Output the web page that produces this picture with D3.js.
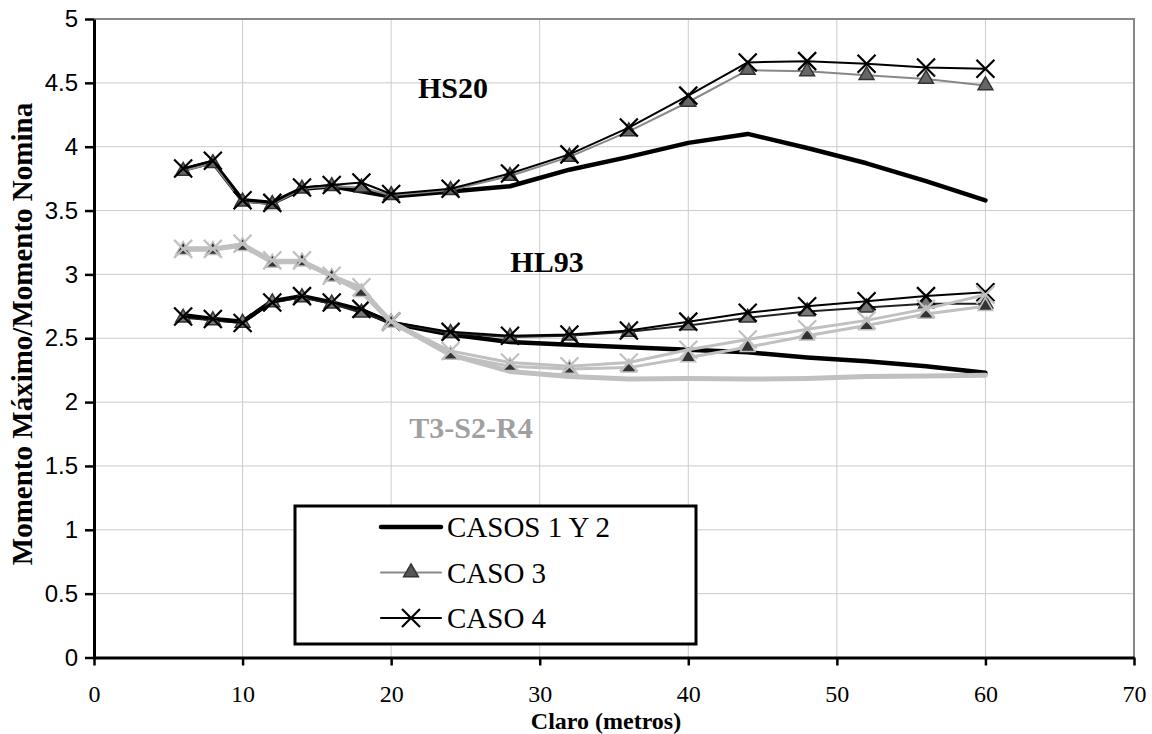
<!DOCTYPE html>
<html>
<head>
<meta charset="utf-8">
<script src="https://cdn.jsdelivr.net/npm/d3@7"></script>
<style>
  body { margin: 0; background: #fff; }
  svg { display: block; }
</style>
</head>
<body>
<div id="chart"></div>
<script>
// Span values (metros)
const claro = [6, 8, 10, 12, 14, 16, 18, 20, 24, 28, 32, 36, 40, 44, 48, 52, 56, 60];

// HS20
const hs20Casos12 = [3.82, 3.88, 3.58, 3.56, 3.67, 3.69, 3.65, 3.61, 3.65, 3.69, 3.82, 3.92, 4.03, 4.10, 3.99, 3.87, 3.73, 3.58];
const hs20Caso3 = [3.81, 3.87, 3.57, 3.55, 3.67, 3.69, 3.68, 3.62, 3.66, 3.77, 3.92, 4.12, 4.35, 4.60, 4.59, 4.56, 4.53, 4.48];
const hs20Caso4 = [3.83, 3.89, 3.58, 3.56, 3.68, 3.70, 3.72, 3.63, 3.67, 3.79, 3.94, 4.15, 4.40, 4.66, 4.67, 4.65, 4.62, 4.61];

// HL93
const hl93Casos12 = [2.68, 2.65, 2.63, 2.79, 2.83, 2.78, 2.72, 2.62, 2.53, 2.47, 2.45, 2.43, 2.41, 2.39, 2.35, 2.32, 2.28, 2.23];
const hl93Caso3 = [2.66, 2.64, 2.62, 2.78, 2.82, 2.77, 2.70, 2.62, 2.54, 2.51, 2.52, 2.55, 2.60, 2.66, 2.71, 2.74, 2.77, 2.77];
const hl93Caso4 = [2.67, 2.65, 2.62, 2.78, 2.83, 2.78, 2.73, 2.63, 2.55, 2.52, 2.53, 2.56, 2.63, 2.70, 2.75, 2.79, 2.83, 2.86];

// T3-S2-R4
const t3Casos12 = [3.20, 3.20, 3.23, 3.10, 3.10, 2.99, 2.87, 2.63, 2.37, 2.24, 2.20, 2.18, 2.185, 2.18, 2.185, 2.20, 2.205, 2.21];
const t3Caso3 = [3.19, 3.19, 3.22, 3.09, 3.10, 2.98, 2.86, 2.62, 2.37, 2.28, 2.26, 2.27, 2.35, 2.43, 2.52, 2.60, 2.69, 2.75];
const t3Caso4 = [3.20, 3.20, 3.24, 3.11, 3.11, 2.99, 2.90, 2.63, 2.40, 2.31, 2.28, 2.31, 2.41, 2.49, 2.57, 2.64, 2.73, 2.84];

const xTicks = [0, 10, 20, 30, 40, 50, 60, 70];
const yTicks = [0, 0.5, 1, 1.5, 2, 2.5, 3, 3.5, 4, 4.5, 5];
const yTickLabels = ['0', '0.5', '1', '1.5', '2', '2.5', '3', '3.5', '4', '4.5', '5'];
const legendLabels = ['CASOS 1 Y 2', 'CASO 3', 'CASO 4'];

const serif = '"Liberation Serif", "Times New Roman", Times, serif';
const sans = '"Liberation Sans", Arial, sans-serif';

const width = 1152, height = 734;

const svg = d3.select('#chart')
  .append('svg')
  .attr('width', width)
  .attr('height', height);

svg.append('rect').attr('width', width).attr('height', height).attr('fill', '#fff');

// Scales
const x = d3.scaleLinear().domain([0, 70]).range([94, 1134]);
const y = d3.scaleLinear().domain([0, 5]).range([657.5, 19]);

// Gridlines
svg.append('g')
  .selectAll('line')
  .data(xTicks.slice(1, -1))
  .enter().append('line')
  .attr('x1', d => x(d)).attr('x2', d => x(d))
  .attr('y1', y(0)).attr('y2', y(5))
  .attr('stroke', '#cccccc').attr('stroke-width', 1);

svg.append('g')
  .selectAll('line')
  .data(yTicks.slice(1, -1))
  .enter().append('line')
  .attr('x1', x(0)).attr('x2', x(70))
  .attr('y1', d => y(d)).attr('y2', d => y(d))
  .attr('stroke', '#cccccc').attr('stroke-width', 1);

// Top and right frame
svg.append('path')
  .attr('d', `M${x(0)},${y(5)}H${x(70)}V${y(0)}`)
  .attr('fill', 'none')
  .attr('stroke', '#888')
  .attr('stroke-width', 2);

// Series
const line = d3.line()
  .x((d, i) => x(claro[i]))
  .y(d => y(d));

const triPath = d3.symbol().type(d3.symbolTriangle).size(95)();
const crossPath = 'M-9,-9L9,9M-9,9L9,-9';

const series = [
  { values: hs20Casos12, color: '#000', width: 4.5 },
  { values: hs20Caso3, color: '#888', width: 2, marker: 'tri', mFill: '#666', mStroke: '#333' },
  { values: hs20Caso4, color: '#000', width: 2, marker: 'x', mStroke: '#000' },
  { values: hl93Casos12, color: '#000', width: 4.5 },
  { values: hl93Caso3, color: '#222', width: 2, marker: 'tri', mFill: '#777', mStroke: '#333' },
  { values: hl93Caso4, color: '#000', width: 2, marker: 'x', mStroke: '#000' },
  { values: t3Casos12, color: '#c0c0c0', width: 5 },
  { values: t3Caso3, color: '#c0c0c0', width: 3, marker: 'tri', mFill: '#333', mStroke: '#c0c0c0' },
  { values: t3Caso4, color: '#c0c0c0', width: 3, marker: 'x', mStroke: '#c0c0c0' }
];

series.forEach(s => {
  svg.append('path')
    .datum(s.values)
    .attr('d', line)
    .attr('fill', 'none')
    .attr('stroke', s.color)
    .attr('stroke-width', s.width)
    .attr('stroke-linejoin', 'round')
    .attr('stroke-linecap', 'round');

  if (s.marker) {
    svg.append('g')
      .selectAll('path')
      .data(s.values)
      .enter().append('path')
      .attr('transform', (d, i) => `translate(${x(claro[i])},${y(d)})`)
      .attr('d', s.marker === 'tri' ? triPath : crossPath)
      .attr('fill', s.marker === 'tri' ? s.mFill : 'none')
      .attr('stroke', s.mStroke)
      .attr('stroke-width', s.marker === 'tri' ? 1.5 : 2.2);
  }
});

// Axes
const yAxis = svg.append('g')
  .attr('transform', `translate(${x(0)},0)`)
  .call(d3.axisLeft(y).tickValues(yTicks).tickFormat((d, i) => yTickLabels[i]).tickSize(9).tickSizeOuter(0).tickPadding(7));

yAxis.attr('font-family', null);
yAxis.select('.domain').attr('stroke', '#000').attr('stroke-width', 3);
yAxis.selectAll('.tick line').attr('stroke', '#000').attr('stroke-width', 2.5);
yAxis.selectAll('text')
  .attr('font-family', sans)
  .style('font-size', '24px')
  .style('fill', '#000');

const xAxis = svg.append('g')
  .attr('transform', `translate(0,${y(0)})`)
  .call(d3.axisBottom(x).tickValues(xTicks).tickFormat(d3.format('d')).tickSize(8).tickSizeOuter(0).tickPadding(19));

xAxis.attr('font-family', null);
xAxis.select('.domain').attr('stroke', '#000').attr('stroke-width', 3);
xAxis.selectAll('.tick line').attr('stroke', '#000').attr('stroke-width', 2.5);
xAxis.selectAll('text')
  .attr('font-family', serif)
  .style('font-size', '24px')
  .style('fill', '#000');

// Axis titles
svg.append('text')
  .attr('x', 606)
  .attr('y', 729)
  .style('text-anchor', 'middle')
  .attr('font-family', serif)
  .style('font-weight', 'bold')
  .style('font-size', '24px')
  .text('Claro (metros)');

svg.append('text')
  .attr('transform', 'translate(32,334) rotate(-90)')
  .style('text-anchor', 'middle')
  .attr('font-family', serif)
  .style('font-weight', 'bold')
  .style('font-size', '29px')
  .text('Momento Máximo/Momento Nomina');

// Group labels
const groupLabels = [
  { text: 'HS20', cx: 453, by: 98, color: '#000' },
  { text: 'HL93', cx: 547, by: 272, color: '#000' },
  { text: 'T3-S2-R4', cx: 471, by: 438, color: '#a0a0a0' }
];

svg.selectAll('.glabel')
  .data(groupLabels)
  .enter().append('text')
  .attr('class', 'glabel')
  .attr('x', d => d.cx)
  .attr('y', d => d.by)
  .style('text-anchor', 'middle')
  .attr('font-family', serif)
  .style('font-weight', 'bold')
  .style('font-size', '30px')
  .style('fill', d => d.color)
  .text(d => d.text);

// Legend
const legend = svg.append('g');
legend.append('rect')
  .attr('x', 295).attr('y', 506)
  .attr('width', 401).attr('height', 138)
  .attr('fill', '#fff')
  .attr('stroke', '#000')
  .attr('stroke-width', 3);

const legendRows = [
  { color: '#000', width: 4.5 },
  { color: '#888', width: 2, marker: 'tri', mFill: '#555', mStroke: '#333' },
  { color: '#000', width: 2, marker: 'x', mStroke: '#000' }
];

legendRows.forEach((r, i) => {
  const cy = 527 + i * 45.5;
  legend.append('line')
    .attr('x1', 381).attr('x2', 441)
    .attr('y1', cy).attr('y2', cy)
    .attr('stroke', r.color)
    .attr('stroke-width', r.width)
    .attr('stroke-linecap', 'round');
  if (r.marker) {
    legend.append('path')
      .attr('transform', `translate(411,${cy})`)
      .attr('d', r.marker === 'tri' ? triPath : crossPath)
      .attr('fill', r.marker === 'tri' ? r.mFill : 'none')
      .attr('stroke', r.mStroke)
      .attr('stroke-width', r.marker === 'tri' ? 1.5 : 2.2);
  }
  legend.append('text')
    .attr('x', 447)
    .attr('y', cy + 10)
    .attr('font-family', serif)
    .style('font-size', '29px')
    .style('fill', '#000')
    .text(legendLabels[i]);
});
</script>
</body>
</html>
